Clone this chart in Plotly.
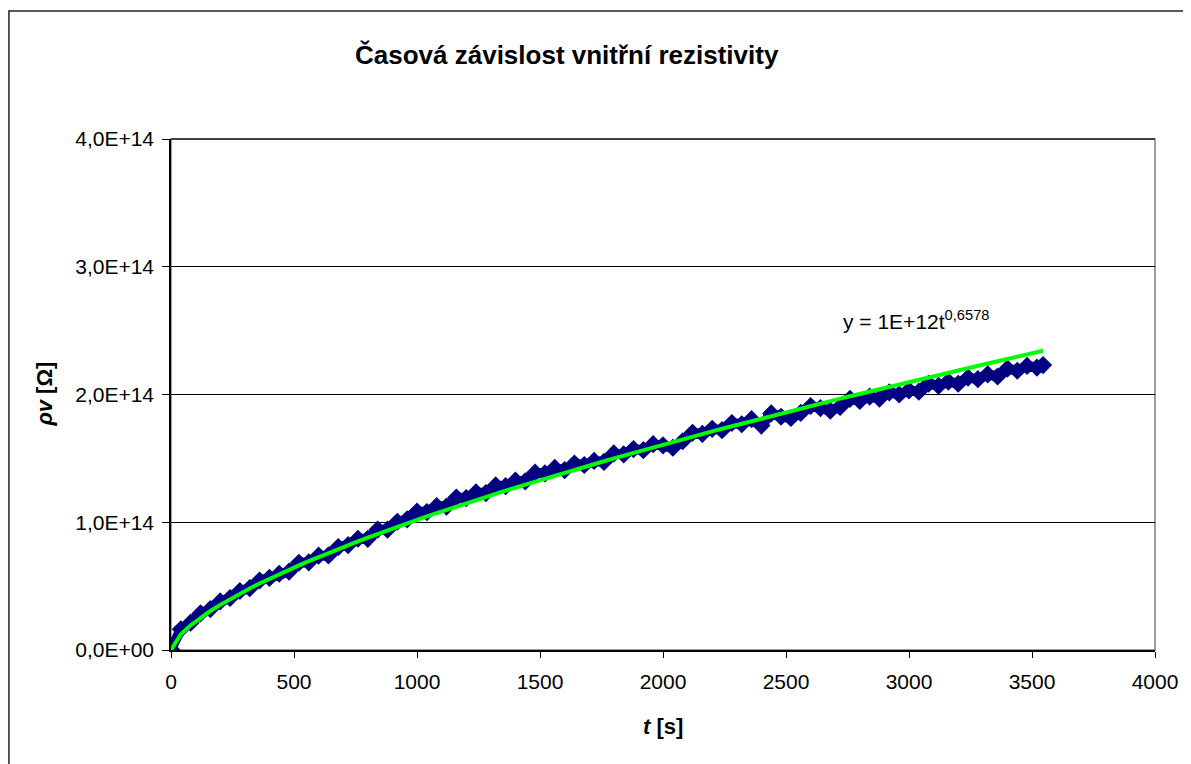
import numpy as np
import plotly.graph_objects as go

# measured time [s] and volume resistivity [1E+12 Ohm]
T = [0, 40, 80, 120, 160, 200, 240, 280, 320, 360,
     400, 440, 480, 520, 560, 600, 640, 680, 720, 760,
     800, 840, 880, 920, 960, 1000, 1040, 1080, 1120, 1160,
     1200, 1240, 1280, 1320, 1360, 1400, 1440, 1480, 1520, 1560,
     1600, 1640, 1680, 1720, 1760, 1800, 1840, 1880, 1920, 1960,
     2000, 2040, 2080, 2120, 2160, 2200, 2240, 2280, 2320, 2360,
     2400, 2440, 2480, 2520, 2560, 2600, 2640, 2680, 2720, 2760,
     2800, 2840, 2880, 2920, 2960, 3000, 3040, 3080, 3120, 3160,
     3200, 3240, 3280, 3320, 3360, 3400, 3440, 3480, 3520, 3545]
RHO_E12 = [0.5, 16.2, 21.4, 28.6, 32.0, 38.0, 40.7, 46.2, 48.4, 54.4,
           56.4, 59.7, 61.4, 68.3, 68.6, 73.8, 74.0, 80.6, 82.1, 87.1,
           87.0, 94.3, 94.2, 100.4, 102.2, 108.4, 108.0, 112.7, 112.3, 119.3,
           118.9, 123.4, 122.8, 128.8, 128.2, 132.6, 132.0, 138.8, 138.2, 142.5,
           140.8, 146.0, 144.8, 148.0, 147.2, 153.9, 153.1, 157.3, 156.4, 161.1,
           160.2, 158.3, 163.4, 170.0, 169.1, 173.1, 172.1, 177.7, 176.7, 180.7,
           175.7, 185.2, 182.6, 181.6, 185.6, 191.0, 189.4, 187.3, 190.3, 196.6,
           195.0, 198.4, 196.8, 201.7, 200.0, 203.3, 202.2, 208.5, 206.8, 210.1,
           208.4, 213.2, 212.0, 215.8, 214.1, 220.3, 218.6, 222.4, 221.1, 223.0]

# power trendline  y = a * t^b  (label shows a rounded to 1E+12)
TREND_COEF = 1.083e12
TREND_EXP = 0.6578

Y_TICKS = [0, 1e14, 2e14, 3e14, 4e14]
Y_TICK_TEXT = ["0,0E+00", "1,0E+14", "2,0E+14", "3,0E+14", "4,0E+14"]
X_TICKS = [0, 500, 1000, 1500, 2000, 2500, 3000, 3500, 4000]

t = np.array(T, dtype=float)
rho = np.array(RHO_E12) * 1e12
trend = TREND_COEF * t ** TREND_EXP

FONT = "Liberation Sans, Arial, sans-serif"
NAVY = "#000080"

fig = go.Figure()

fig.add_trace(go.Scatter(
    x=t, y=rho, mode="lines+markers",
    line=dict(color=NAVY, width=10),
    marker=dict(symbol="diamond", size=14, color=NAVY, line=dict(width=0)),
    showlegend=False, hoverinfo="x+y",
))

fig.add_trace(go.Scatter(
    x=t, y=trend, mode="lines",
    line=dict(color="#00FF00", width=4),
    showlegend=False, hoverinfo="skip",
))

# page body adds an 8px offset, so the figure is 8px smaller than the window
fig.update_layout(
    width=1183, height=756,
    margin=dict(l=163, r=36, t=131, b=114),
    paper_bgcolor="white", plot_bgcolor="white",
    font=dict(family=FONT, color="black", size=21),
    xaxis=dict(
        range=[0, 4000], tickvals=X_TICKS, showgrid=False, zeroline=False,
        showline=True, linecolor="black", linewidth=1.5,
        ticks="outside", ticklen=6, tickcolor="black",
        ticklabelstandoff=6,
        tickfont=dict(size=21), fixedrange=True,
    ),
    yaxis=dict(
        range=[0, 4e14], tickvals=Y_TICKS, ticktext=Y_TICK_TEXT,
        showgrid=True, gridcolor="black", gridwidth=1, zeroline=False,
        showline=True, linecolor="black", linewidth=1.5,
        ticks="outside", ticklen=7, tickcolor="black",
        ticklabelstandoff=4,
        tickfont=dict(size=21), fixedrange=True,
    ),
    shapes=[
        # plot area border
        dict(type="rect", xref="paper", yref="paper", x0=0, y0=0, x1=1, y1=1,
             line=dict(color="#808080", width=1.5), layer="below"),
        dict(type="line", xref="paper", yref="paper", x0=0, y0=1, x1=1, y1=1,
             line=dict(color="#202020", width=1.5)),
        # outer chart border (cut at the page edge)
        dict(type="rect", xref="paper", yref="paper",
             x0=-0.1647, y0=-0.3, x1=1.2, y1=1.2505,
             line=dict(color="#202020", width=1.5)),
    ],
    annotations=[
        dict(text="<b>Časová závislost vnitřní rezistivity</b>",
             xref="paper", yref="paper", x=0.4024, y=1.164,
             xanchor="center", yanchor="middle", showarrow=False,
             font=dict(size=26)),
        dict(text="<b><i>t</i> [s]</b>", xref="paper", yref="paper",
             x=0.5, y=-0.149, xanchor="center", yanchor="middle",
             showarrow=False, font=dict(size=22)),
        dict(text="<b><i>ρv</i> [Ω]</b>", xref="paper", yref="paper",
             x=-0.129, y=0.5, xanchor="center", yanchor="middle",
             textangle=-90, showarrow=False, font=dict(size=22)),
        dict(text="y = 1E+12t<sup>0,6578</sup>", xref="x", yref="y",
             x=2725, y=2.58e14, xanchor="left", yanchor="middle",
             showarrow=False, font=dict(size=21)),
    ],
)

fig.write_html("out.html")
